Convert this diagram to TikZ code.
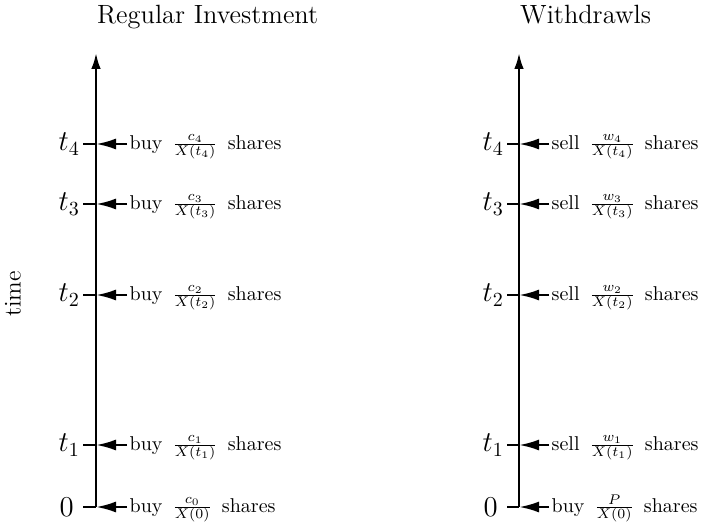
\documentclass[tikz,border=0pt]{standalone}
\usepackage{amsmath}
\usepackage{amssymb}
\usetikzlibrary{arrows.meta}
\tikzset{every picture/.style={line width=1.2pt}}
\tikzset{
  axis/.style={-{Latex[length=8pt,width=4.8pt]}},
  flow/.style={-{Latex[length=10pt,width=5.5pt]}},
  tlab/.style={anchor=east,inner sep=1pt,font=\Large},
  act/.style={anchor=base west,inner sep=0.75pt},
  head/.style={anchor=base west,inner sep=0pt,font=\fontsize{13.2}{16}\selectfont}
}

\begin{document}
\begin{tikzpicture}[x=0.5pt,y=0.5pt,yscale=-1,xscale=1]
\path[use as bounding box] (0,0) rectangle (706,524);

% Text Node
\node (lhead) [head] at (96,24) {Regular Investment};
% Text Node
\node (rhead) [head] at (519,24) {Withdrawls};
% Text Node
\node (timelab) [rotate=90,font=\large] at (13,294) {time};

%Straight Lines: left axis
\coordinate (ltop) at (96,53);
\coordinate (l0) at (96,507);
\draw [axis] (l0) -- (ltop);
%Straight Lines: right axis
\coordinate (rtop) at (519,53);
\coordinate (r0) at (519,507);
\draw [axis] (r0) -- (rtop);

%Ticks on the left axis
\coordinate (l1) at (96,445);
\coordinate (l2) at (96,295);
\coordinate (l3) at (96,204);
\coordinate (l4) at (96,144);
\coordinate (lk0) at (83,507);
\coordinate (lk1) at (83,445);
\coordinate (lk2) at (83,295);
\coordinate (lk3) at (83,204);
\coordinate (lk4) at (83,144);
\draw (lk0) -- (l0);
\draw (lk1) -- (l1);
\draw (lk2) -- (l2);
\draw (lk3) -- (l3);
\draw (lk4) -- (l4);

%Ticks on the right axis
\coordinate (r1) at (519,445);
\coordinate (r2) at (519,295);
\coordinate (r3) at (519,204);
\coordinate (r4) at (519,144);
\coordinate (rk0) at (507,507);
\coordinate (rk1) at (507,445);
\coordinate (rk2) at (507,295);
\coordinate (rk3) at (507,204);
\coordinate (rk4) at (507,144);
\draw (rk0) -- (r0);
\draw (rk1) -- (r1);
\draw (rk2) -- (r2);
\draw (rk3) -- (r3);
\draw (rk4) -- (r4);

% Text Node: time labels
\node (lt0) [tlab,xshift=-3pt] at (lk0) {$0$};
\node (lt1) [tlab] at (lk1) {$t_{1}$};
\node (lt2) [tlab] at (lk2) {$t_{2}$};
\node (lt3) [tlab] at (lk3) {$t_{3}$};
\node (lt4) [tlab] at (lk4) {$t_{4}$};
\node (rt0) [tlab,xshift=-3pt] at (rk0) {$0$};
\node (rt1) [tlab] at (rk1) {$t_{1}$};
\node (rt2) [tlab] at (rk2) {$t_{2}$};
\node (rt3) [tlab] at (rk3) {$t_{3}$};
\node (rt4) [tlab] at (rk4) {$t_{4}$};

% Text Node: purchases
\node (lb0) [act] at (127,512) {buy\enspace$\frac{c_{0}}{X(0)}$\enspace shares};
\node (lb1) [act] at (127,450) {buy\enspace$\frac{c_{1}}{X(t_{1})}$\enspace shares};
\node (lb2) [act] at (127,300) {buy\enspace$\frac{c_{2}}{X(t_{2})}$\enspace shares};
\node (lb3) [act] at (127,209) {buy\enspace$\frac{c_{3}}{X(t_{3})}$\enspace shares};
\node (lb4) [act] at (127,149) {buy\enspace$\frac{c_{4}}{X(t_{4})}$\enspace shares};
% Text Node: withdrawals
\node (rb0) [act] at (549,512) {buy\enspace$\frac{P}{X(0)}$\enspace shares};
\node (rb1) [act] at (549,450) {sell\enspace$\frac{w_{1}}{X(t_{1})}$\enspace shares};
\node (rb2) [act] at (549,300) {sell\enspace$\frac{w_{2}}{X(t_{2})}$\enspace shares};
\node (rb3) [act] at (549,209) {sell\enspace$\frac{w_{3}}{X(t_{3})}$\enspace shares};
\node (rb4) [act] at (549,149) {sell\enspace$\frac{w_{4}}{X(t_{4})}$\enspace shares};

%Straight Lines: arrows into the axes
\draw [flow] (lb0.west |- l0) -- (l0);
\draw [flow] (lb1.west |- l1) -- (l1);
\draw [flow] (lb2.west |- l2) -- (l2);
\draw [flow] (lb3.west |- l3) -- (l3);
\draw [flow] (lb4.west |- l4) -- (l4);
\draw [flow] (rb0.west |- r0) -- (r0);
\draw [flow] (rb1.west |- r1) -- (r1);
\draw [flow] (rb2.west |- r2) -- (r2);
\draw [flow] (rb3.west |- r3) -- (r3);
\draw [flow] (rb4.west |- r4) -- (r4);

\end{tikzpicture}
\end{document}
